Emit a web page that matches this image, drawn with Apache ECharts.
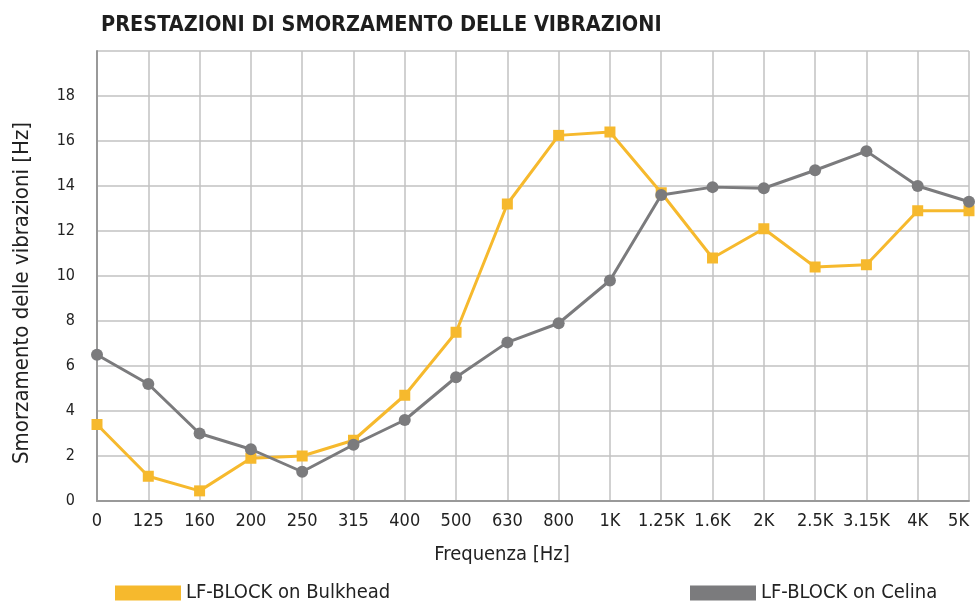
<!DOCTYPE html>
<html>
<head>
<meta charset="utf-8">
<script src="https://cdn.jsdelivr.net/npm/echarts@6/dist/echarts.min.js"></script>
<style>
  html, body { margin: 0; padding: 0; background: #fff; }
  #chart { width: 977px; height: 602px; }
</style>
</head>
<body>
<div id="chart"></div>
<script>
var myChart = echarts.init(document.getElementById('chart'));

var frequenze = ['0', '125', '160', '200', '250', '315', '400', '500', '630', '800',
    '1K', '1.25K', '1.6K', '2K', '2.5K', '3.15K', '4K', '5K'];
var bulkhead = [3.4, 1.1, 0.45, 1.9, 2.0, 2.7, 4.7, 7.5, 13.2, 16.25,
    16.4, 13.7, 10.8, 12.1, 10.4, 10.5, 12.9, 12.9];
var celina = [6.5, 5.2, 3.0, 2.3, 1.3, 2.5, 3.6, 5.5, 7.05, 7.9,
    9.8, 13.6, 13.95, 13.9, 14.7, 15.55, 14.0, 13.3];

var giallo = '#f6b92d';
var grigio = '#7b7b7d';
var font = 'DejaVu Sans Condensed';

option = {
    backgroundColor: '#fff',
    animation: false,
    textStyle: { fontFamily: font },
    title: {
        text: 'PRESTAZIONI DI SMORZAMENTO DELLE VIBRAZIONI',
        left: 96,
        top: 9,
        textStyle: {
            color: '#1e1e1e',
            fontSize: 21.5,
            fontWeight: 'bold',
            fontFamily: font
        }
    },
    legend: [
        {
            data: ['LF-BLOCK on Bulkhead'],
            left: 110,
            top: 578,
            itemWidth: 66,
            itemHeight: 15,
            icon: 'rect',
            textStyle: { color: '#222', fontSize: 20, fontFamily: font }
        },
        {
            data: ['LF-BLOCK on Celina'],
            left: 685,
            top: 578,
            itemWidth: 66,
            itemHeight: 15,
            icon: 'rect',
            textStyle: { color: '#222', fontSize: 20, fontFamily: font }
        }
    ],
    grid: {
        left: 97,
        right: 8,
        top: 51,
        bottom: 101,
        containLabel: false,
        outerBoundsMode: 'none'
    },
    xAxis: {
        type: 'category',
        boundaryGap: false,
        data: frequenze,
        name: 'Frequenza [Hz]',
        nameLocation: 'middle',
        nameGap: 44,
        nameTextStyle: { color: '#222', fontSize: 20, padding: [0, 62, 0, 0] },
        axisLine: { lineStyle: { color: '#999', width: 2 } },
        axisTick: { show: false },
        axisLabel: { color: '#222', fontSize: 18, margin: 11, interval: 0, alignMaxLabel: 'right' },
        splitLine: { show: true, interval: 0, lineStyle: { color: '#c2c2c2', width: 1.5 } }
    },
    yAxis: {
        type: 'value',
        min: 0,
        max: 20,
        interval: 2,
        name: 'Smorzamento delle vibrazioni [Hz]',
        nameLocation: 'middle',
        nameGap: 64,
        nameTextStyle: { color: '#222', fontSize: 22, padding: [0, 34, 0, 0] },
        axisLine: { show: true, lineStyle: { color: '#999', width: 2 } },
        axisTick: { show: false },
        axisLabel: { color: '#222', fontSize: 16, margin: 22, showMaxLabel: false },
        splitLine: { lineStyle: { color: '#c2c2c2', width: 1.5 } }
    },
    series: [
        {
            name: 'LF-BLOCK on Bulkhead',
            type: 'line',
            data: bulkhead,
            symbol: 'rect',
            symbolSize: 11,
            color: giallo,
            lineStyle: { color: giallo, width: 3 },
            itemStyle: { color: giallo },
            z: 2
        },
        {
            name: 'LF-BLOCK on Celina',
            type: 'line',
            data: celina,
            symbol: 'circle',
            symbolSize: 12,
            color: grigio,
            lineStyle: { color: grigio, width: 3 },
            itemStyle: { color: grigio },
            z: 3
        }
    ]
};

myChart.setOption(option);
</script>
</body>
</html>
